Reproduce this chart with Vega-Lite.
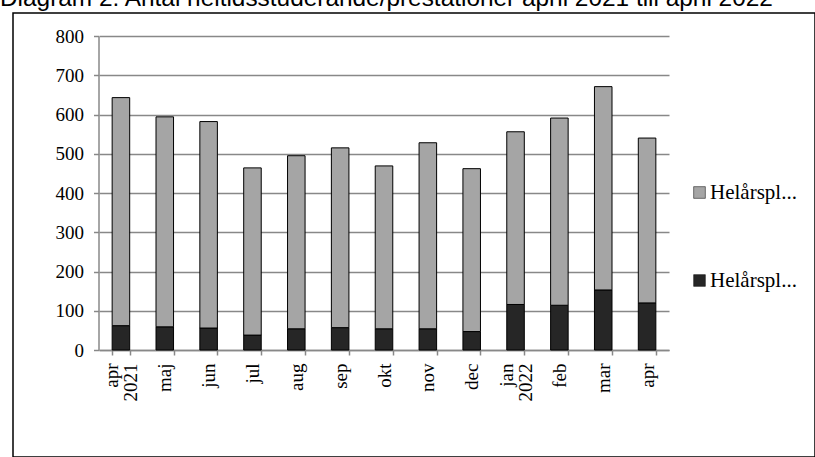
{
  "$schema": "https://vega.github.io/schema/vega-lite/v6.json",
  "width": 802,
  "height": 444,
  "autosize": {"type": "none"},
  "padding": {"left": 13, "top": 13, "right": 0, "bottom": 0},
  "background": "white",
  "title": {
    "text": "Diagram 2: Antal heltidsstuderande/prestationer april 2021 till april 2022",
    "anchor": "start",
    "frame": "group",
    "font": "Liberation Sans",
    "fontSize": 24.4,
    "fontWeight": "normal",
    "color": "black",
    "dx": -13,
    "offset": 2
  },
  "data": {
    "values": [
      {"manad": "apr 2021", "serie": "Helårspl... B", "niva": 1, "varde": 62},
      {"manad": "apr 2021", "serie": "Helårspl... A", "niva": 2, "varde": 581},
      {"manad": "maj", "serie": "Helårspl... B", "niva": 1, "varde": 59},
      {"manad": "maj", "serie": "Helårspl... A", "niva": 2, "varde": 535},
      {"manad": "jun", "serie": "Helårspl... B", "niva": 1, "varde": 56},
      {"manad": "jun", "serie": "Helårspl... A", "niva": 2, "varde": 526},
      {"manad": "jul", "serie": "Helårspl... B", "niva": 1, "varde": 38},
      {"manad": "jul", "serie": "Helårspl... A", "niva": 2, "varde": 426},
      {"manad": "aug", "serie": "Helårspl... B", "niva": 1, "varde": 54},
      {"manad": "aug", "serie": "Helårspl... A", "niva": 2, "varde": 441},
      {"manad": "sep", "serie": "Helårspl... B", "niva": 1, "varde": 57},
      {"manad": "sep", "serie": "Helårspl... A", "niva": 2, "varde": 458},
      {"manad": "okt", "serie": "Helårspl... B", "niva": 1, "varde": 54},
      {"manad": "okt", "serie": "Helårspl... A", "niva": 2, "varde": 415},
      {"manad": "nov", "serie": "Helårspl... B", "niva": 1, "varde": 54},
      {"manad": "nov", "serie": "Helårspl... A", "niva": 2, "varde": 474},
      {"manad": "dec", "serie": "Helårspl... B", "niva": 1, "varde": 47},
      {"manad": "dec", "serie": "Helårspl... A", "niva": 2, "varde": 415},
      {"manad": "jan 2022", "serie": "Helårspl... B", "niva": 1, "varde": 116},
      {"manad": "jan 2022", "serie": "Helårspl... A", "niva": 2, "varde": 440},
      {"manad": "feb", "serie": "Helårspl... B", "niva": 1, "varde": 114},
      {"manad": "feb", "serie": "Helårspl... A", "niva": 2, "varde": 477},
      {"manad": "mar", "serie": "Helårspl... B", "niva": 1, "varde": 153},
      {"manad": "mar", "serie": "Helårspl... A", "niva": 2, "varde": 518},
      {"manad": "apr", "serie": "Helårspl... B", "niva": 1, "varde": 120},
      {"manad": "apr", "serie": "Helårspl... A", "niva": 2, "varde": 420}
    ]
  },
  "mark": {"type": "bar", "stroke": "black", "strokeWidth": 1},
  "encoding": {
    "x": {
      "field": "manad",
      "type": "nominal",
      "sort": null,
      "scale": {"range": [86, 656], "paddingInner": 0.6, "paddingOuter": 0.3},
      "axis": {
        "title": null,
        "offset": -107,
        "tickBand": "extent",
        "domainColor": "#888888",
        "domainWidth": 1.5,
        "tickColor": "#888888",
        "tickSize": 5,
        "tickWidth": 1.5,
        "labelAngle": -90,
        "labelAlign": "right",
        "labelBaseline": "middle",
        "labelFont": "Times New Roman",
        "labelFontSize": 19,
        "labelColor": "black",
        "labelPadding": 8,
        "labelLineHeight": 19,
        "labelOffset": {"condition": {"test": "isValid(datum.value) && indexof(datum.value, ' ') >= 0", "value": -9}, "value": 0},
        "labelOverlap": false,
        "labelBound": false,
        "labelFlush": false,
        "labelExpr": "isValid(datum.value) ? split(datum.value, ' ') : ''",
        "grid": false
      }
    },
    "y": {
      "field": "varde",
      "type": "quantitative",
      "stack": "zero",
      "scale": {"domain": [0, 800], "range": [337, 23], "nice": false},
      "axis": {
        "title": null,
        "offset": -85.5,
        "values": [0, 100, 200, 300, 400, 500, 600, 700, 800],
        "domainColor": "#888888",
        "domainWidth": 1.5,
        "grid": true,
        "gridColor": "#888888",
        "gridWidth": 1.5,
        "tickColor": "#888888",
        "tickSize": 5,
        "tickWidth": 1.5,
        "labelFont": "Times New Roman",
        "labelFontSize": 19,
        "labelColor": "black",
        "labelPadding": 10
      }
    },
    "color": {
      "field": "serie",
      "type": "nominal",
      "scale": {"domain": ["Helårspl... A", "Helårspl... B"], "range": ["#a5a5a5", "#262626"]},
      "legend": {
        "orient": "none",
        "legendX": 676,
        "legendY": 169,
        "title": null,
        "direction": "vertical",
        "symbolType": "square",
        "symbolSize": 137,
        "symbolStrokeColor": "black",
        "symbolStrokeWidth": 0.5,
        "labelFont": "Times New Roman",
        "labelFontSize": 21,
        "labelColor": "black",
        "labelOffset": 0,
        "rowPadding": 66,
        "labelExpr": "'Helårspl...'"
      }
    },
    "order": {"field": "niva", "type": "quantitative"}
  },
  "config": {
    "view": {"stroke": "black", "strokeWidth": 1.5},
    "axis": {"labelFont": "Times New Roman"}
  }
}
